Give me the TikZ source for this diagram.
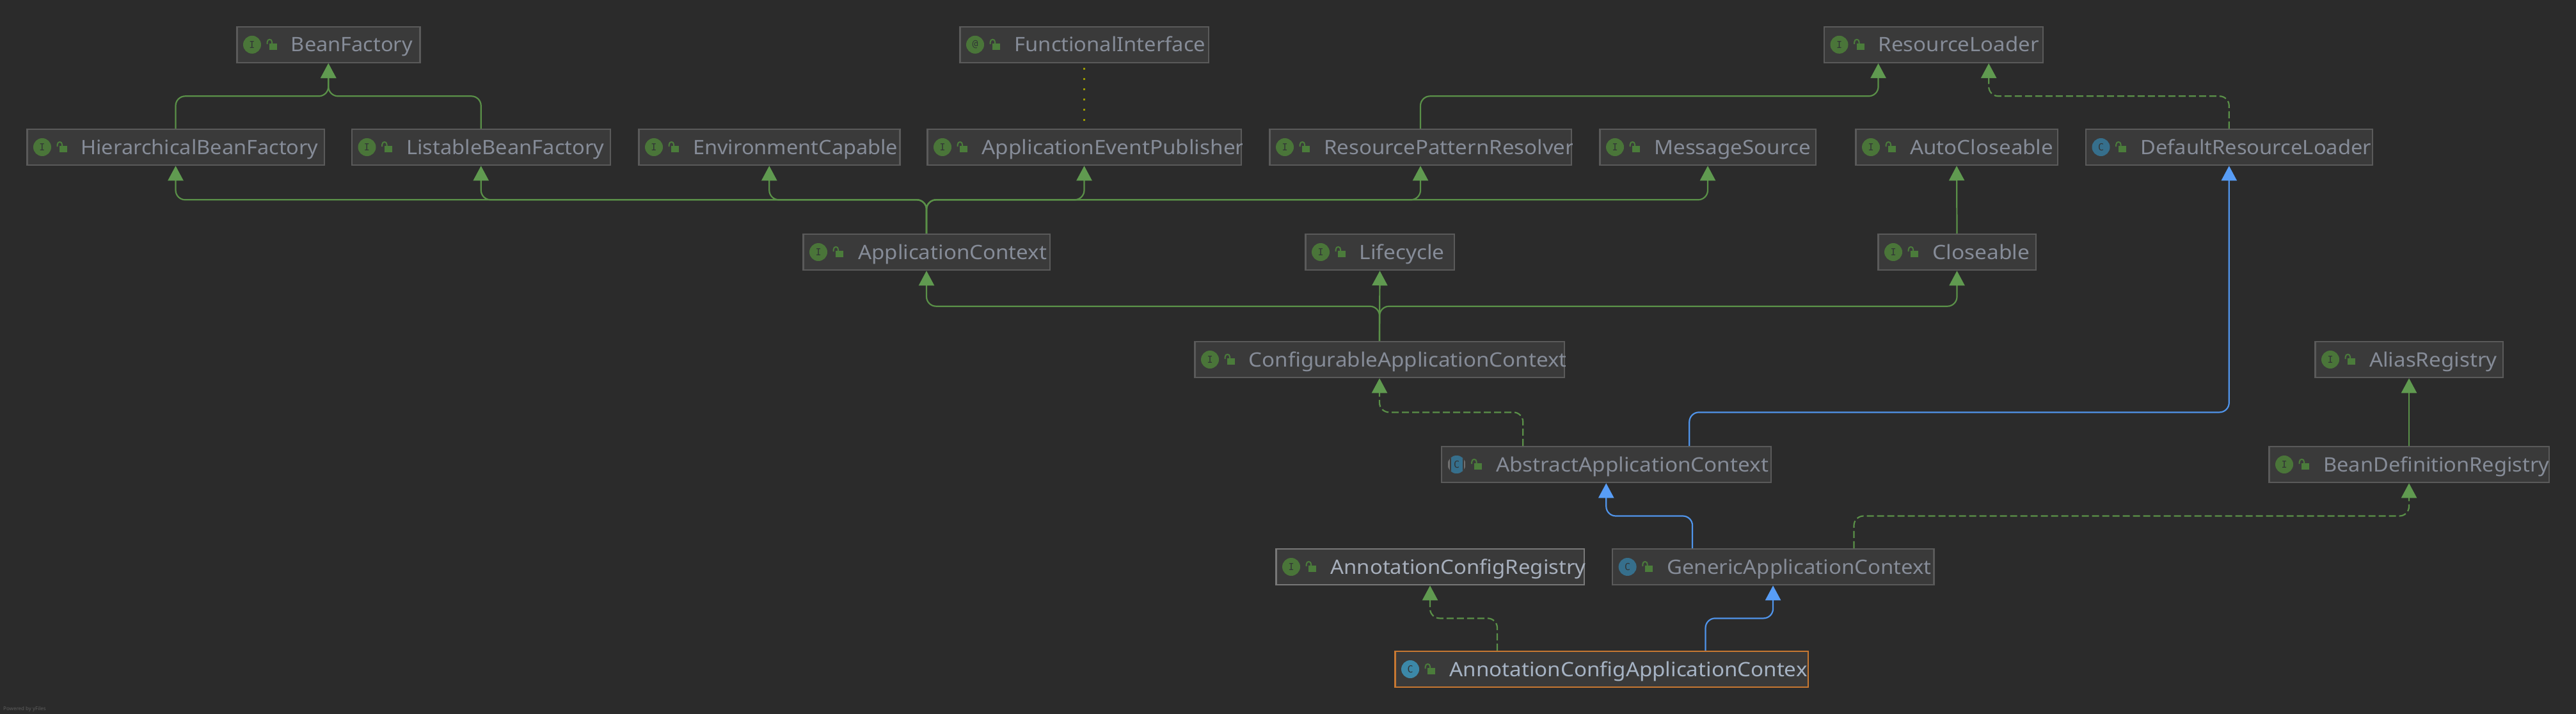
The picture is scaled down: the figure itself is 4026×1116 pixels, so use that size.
\documentclass[tikz,border=0pt]{standalone}
\usepackage{fontspec}
\usepackage{graphicx}
\setmainfont{Noto Sans}
\newfontfamily\iconmono{DejaVu Sans Mono}
\usetikzlibrary{arrows.meta,calc}
\definecolor{bgc}{HTML}{2B2B2B}
\definecolor{boxfill}{HTML}{3A3A3A}
\definecolor{boxline}{HTML}{5A5A5A}
\definecolor{hotline}{HTML}{787878}
\definecolor{curline}{HTML}{C77832}
\definecolor{lbl}{HTML}{868C98}
\definecolor{hotlbl}{HTML}{A7AFBC}
\definecolor{curlbl}{HTML}{A6B3C4}
\definecolor{greenline}{HTML}{5A9048}
\definecolor{greenhead}{HTML}{609A50}
\definecolor{blueline}{HTML}{5094EA}
\definecolor{bluehead}{HTML}{589DF6}
\definecolor{igreen}{HTML}{4A7539}
\definecolor{lockgreen}{HTML}{4B7C3B}
\definecolor{iblue}{HTML}{366F8C}
\definecolor{curblue}{HTML}{3C88A8}
\definecolor{absgray}{HTML}{707070}
\definecolor{iconink}{HTML}{323536}
\definecolor{dotc}{HTML}{9A9A00}
\definecolor{yfiles}{HTML}{5C5C5C}
\newsavebox\lblbox
\newcommand\fitlabel[2]{\sbox\lblbox{\fontsize{31}{36}\selectfont #2}\pgfmathsetmacro\lblsx{#1/\wd\lblbox}\scalebox{\lblsx}[1]{\usebox\lblbox}}
\tikzset{
  normbox/.style={draw=boxline,fill=boxfill,line width=2.5pt,inner sep=0pt},
  hotbox/.style={draw=hotline,fill=boxfill,line width=2.5pt,inner sep=0pt},
  curbox/.style={draw=curline,fill=boxfill,line width=2.5pt,inner sep=0pt},
  normlabel/.style={text=lbl,anchor=base west,inner sep=0pt},
  hotlabel/.style={text=hotlbl,anchor=base west,inner sep=0pt},
  curlabel/.style={text=curlbl,anchor=base west,inner sep=0pt},
  iconcirc/.style={circle,minimum size=28pt,inner sep=0pt,text=iconink,font=\iconmono\fontsize{15}{15}\selectfont},
  lockline/.style={draw=lockgreen,line width=2pt},
  rel/.style={line width=2.2pt,rounded corners=15pt},
  greenext/.style={rel,draw=greenline,-{Triangle[width=24pt,length=23pt,color=greenhead]}},
  greenimpl/.style={greenext,dash pattern=on 11pt off 5pt},
  blueext/.style={rel,draw=blueline,-{Triangle[width=24pt,length=23pt,color=bluehead]}},
  dotlink/.style={draw=dotc,line width=2.6pt,dash pattern=on 3pt off 13pt,shorten <=6.5pt,shorten >=9pt}
}
\newcommand\iconI[2]{\node[iconcirc,fill=igreen] (#1-icon) at (25,0) {#2};}
\newcommand\iconC[2]{\node[iconcirc,fill=iblue] (#1-icon) at (25,0) {#2};}
\newcommand\iconCur[2]{\node[iconcirc,fill=curblue] (#1-icon) at (25,0) {#2};}
\newcommand\iconAbs[2]{%
  \begin{scope}
    \clip (25,0) circle[radius=14];
    \fill[absgray] (11,-14) rectangle (39,14);
    \fill[boxfill] (14,-14) rectangle (36,14);
    \fill[iblue] (16,-14) rectangle (34,14);
  \end{scope}
  \node[iconcirc] (#1-icon) at (25,0) {#2};}
% name, x1, x2, yc, icon macro, icon letter, text, text start, text width, look
\newcommand\cls[9]{%
  \pgfmathsetmacro\bw{#3-#2-2.5}\pgfmathsetmacro\bx{(#2+#3)/2}%
  \node[#9box,minimum width=\bw pt,minimum height=56pt] (#1) at (\bx,#4) {};
  \begin{scope}[shift={(#1.west)}]
    #5{#1}{#6}
    \draw[lockline] (48.7,-1) -- (48.7,-4) .. controls (48.7,-9.5) and (56.1,-9.5) .. (56.1,-4) -- (56.1,-1.5);
    \fill[lockgreen] (52,-2) rectangle (64,8);
  \end{scope}
  \begin{scope}
    \clip (#2,#4-29) rectangle (#3,#4+29);
    \clsarg{#1}{#7}{#4}{#9}
  \end{scope}}
\newcommand\clsarg[4]{\node[#4label] (#1-label) at (\lblx,#3+11) {\fitlabel{\lblw}{#2}};}
\newcommand\lbl[2]{\def\lblx{#1}\def\lblw{#2}}
% relation: style, from, to, level of the horizontal run
\newcommand\relto[4]{%
  \coordinate (lvl) at (0,#4);
  \draw[#1] (#2) -- (#2 |- lvl) -- (#3 |- lvl) -- (#3);}
\begin{document}
\begin{tikzpicture}[x=1pt,y=-1pt]
\useasboundingbox (0,0) rectangle (4026,1116);
\fill[bgc] (0,0) rectangle (4026,1116);
% rows: 69.8 230 394 562 726 886 1046
\lbl{454.7}{190}\cls{beanfactory}{369}{657.5}{69.8}{\iconI}{I}{BeanFactory}{}{norm}
\lbl{126.3}{371}\cls{hierarchical}{41}{508}{230}{\iconI}{I}{HierarchicalBeanFactory}{}{norm}
\lbl{635.2}{309}\cls{listable}{548.5}{955}{230}{\iconI}{I}{ListableBeanFactory}{}{norm}
\lbl{1083}{320}\cls{environment}{997}{1407.5}{230}{\iconI}{I}{EnvironmentCapable}{}{norm}
\lbl{1585.5}{298.5}\cls{functional}{1499}{1890}{69.8}{\iconI}{@}{FunctionalInterface}{}{norm}
\lbl{1534.4}{410}\cls{publisher}{1448}{1941}{230}{\iconI}{I}{ApplicationEventPublisher}{}{norm}
\lbl{2069}{391}\cls{patternresolver}{1983}{2457}{230}{\iconI}{I}{ResourcePatternResolver}{}{norm}
\lbl{2585}{245}\cls{messagesource}{2499}{2839}{230}{\iconI}{I}{MessageSource}{}{norm}
\lbl{2935.6}{251}\cls{resourceloader}{2849.5}{3194}{69.8}{\iconI}{I}{ResourceLoader}{}{norm}
\lbl{2985}{224}\cls{autocloseable}{2899}{3217}{230}{\iconI}{I}{AutoCloseable}{}{norm}
\lbl{3345}{361}\cls{defaultloader}{3258.5}{3709}{230}{\iconC}{C}{DefaultResourceLoader}{}{norm}
\lbl{1341}{295}\cls{appcontext}{1254}{1642}{394}{\iconI}{I}{ApplicationContext}{}{norm}
\lbl{2124.4}{133}\cls{lifecycle}{2039}{2274}{394}{\iconI}{I}{Lifecycle}{}{norm}
\lbl{3020}{152}\cls{closeable}{2934}{3183}{394}{\iconI}{I}{Closeable}{}{norm}
\lbl{1951.5}{497}\cls{configurable}{1866}{2446}{562}{\iconI}{I}{ConfigurableApplicationContext}{}{norm}
\lbl{3702.9}{199.6}\cls{aliasregistry}{3617}{3913}{562}{\iconI}{I}{AliasRegistry}{}{norm}
\lbl{2338}{426}\cls{abstractctx}{2251.5}{2769}{726}{\iconAbs}{C}{AbstractApplicationContext}{}{norm}
\lbl{3631}{353}\cls{beandefreg}{3545}{3985}{726}{\iconI}{I}{BeanDefinitionRegistry}{}{norm}
\lbl{2079.3}{399}\cls{annoregistry}{1993}{2477}{886}{\iconI}{I}{AnnotationConfigRegistry}{}{hot}
\lbl{2605}{413.5}\cls{genericctx}{2518.6}{3023.5}{886}{\iconC}{C}{GenericApplicationContext}{}{norm}
\lbl{2265.3}{559}\cls{annoctx}{2179}{2827}{1046}{\iconCur}{C}{AnnotationConfigApplicationContex}{}{cur}
% ports
\coordinate (rlleft) at ([xshift=-86.2pt]resourceloader.south);
\coordinate (rlright) at ([xshift=86.4pt]resourceloader.south);
\coordinate (absleft) at ([xshift=-130pt]abstractctx.north);
\coordinate (absright) at ([xshift=130pt]abstractctx.north);
\coordinate (genleft) at ([xshift=-126pt]genericctx.north);
\coordinate (genright) at ([xshift=126.4pt]genericctx.north);
\coordinate (annoleft) at ([xshift=-163pt]annoctx.north);
\coordinate (annoright) at ([xshift=162.5pt]annoctx.north);
% relations
\relto{greenext}{hierarchical.north}{beanfactory.south}{150.3}
\relto{greenext}{listable.north}{beanfactory.south}{150.3}
\relto{greenext}{patternresolver.north}{rlleft}{150.3}
\relto{greenimpl}{defaultloader.north}{rlright}{150.3}
\relto{greenext}{appcontext.north}{hierarchical.south}{312.3}
\relto{greenext}{appcontext.north}{listable.south}{312.3}
\relto{greenext}{appcontext.north}{environment.south}{312.3}
\relto{greenext}{appcontext.north}{publisher.south}{312.3}
\relto{greenext}{appcontext.north}{patternresolver.south}{312.3}
\relto{greenext}{appcontext.north}{messagesource.south}{312.3}
\relto{greenext}{configurable.north}{appcontext.south}{478.7}
\relto{greenext}{configurable.north}{closeable.south}{478.7}
\draw[greenext] (configurable.north) -- (lifecycle.south);
\draw[greenext] (closeable.north) -- (autocloseable.south);
\draw[greenext] (beandefreg.north) -- (aliasregistry.south);
\draw[dotlink] (functional.south) -- (publisher.north);
\relto{greenimpl}{absleft}{configurable.south}{644.4}
\relto{blueext}{absright}{defaultloader.south}{644.4}
\relto{blueext}{genleft}{abstractctx.south}{806.5}
\relto{greenimpl}{genright}{beandefreg.south}{806.5}
\relto{greenimpl}{annoleft}{annoregistry.south}{966.4}
\relto{blueext}{annoright}{genericctx.south}{966.4}
\node[text=yfiles,anchor=base west,inner sep=0pt,font=\fontsize{8}{9}\selectfont] (poweredby) at (5,1110) {Powered by yFiles};
\end{tikzpicture}
\end{document}
